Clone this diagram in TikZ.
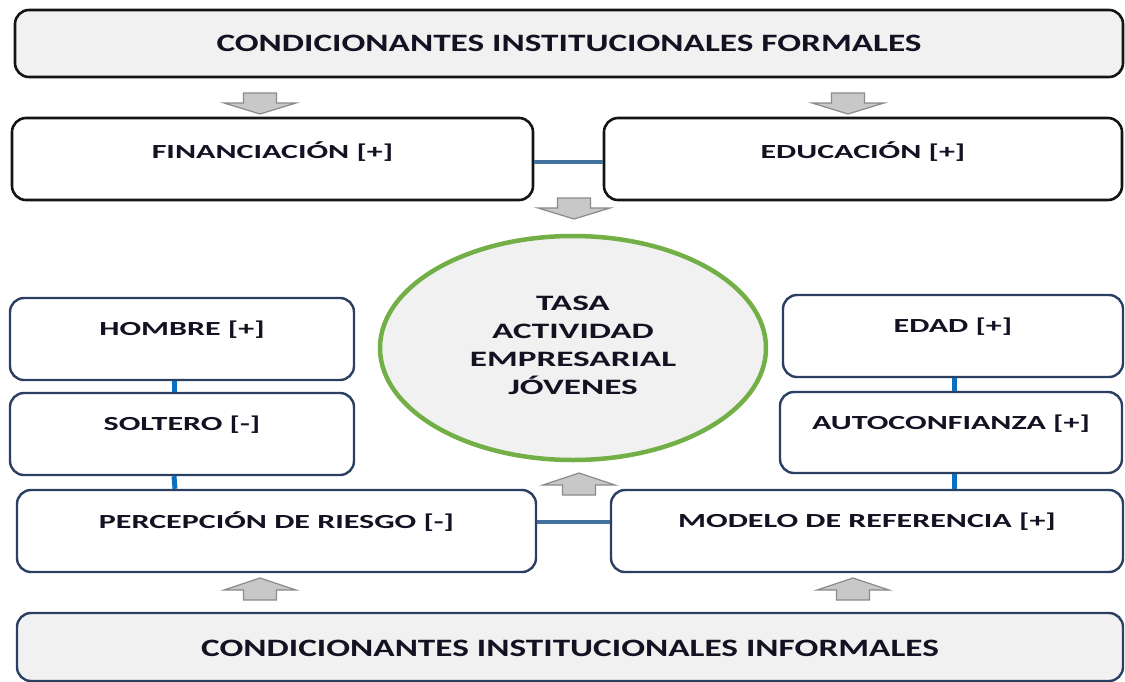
\documentclass[tikz,border=0pt]{standalone}
\usepackage{fontspec}
\setmainfont{Carlito}
\usepackage{graphicx}
\usetikzlibrary{shapes.geometric}
\definecolor{navy}{HTML}{2B3F63}
\definecolor{boxblack}{HTML}{141414}
\definecolor{lgray}{HTML}{F1F1F1}
\definecolor{conblue}{HTML}{41719C}
\definecolor{vblue}{HTML}{0C70C0}
\definecolor{cgreen}{HTML}{72AF47}
\definecolor{agray}{HTML}{C8C8C8}
\definecolor{agrayb}{HTML}{8A8A8A}
\definecolor{txt}{HTML}{121222}
\newcommand{\sx}[1]{\scalebox{1.6}[1]{#1}}
\newcommand{\sxb}[1]{\scalebox{1.41}[1]{#1}}
\tikzset{
  boxk/.style={draw=boxblack, line width=2.6pt, rounded corners=14pt, fill=white, inner sep=0pt},
  boxn/.style={draw=navy, line width=2.4pt, rounded corners=14pt, fill=white, inner sep=0pt},
  lbl/.style={font=\bfseries\fontsize{20}{24}\selectfont, text=txt, inner sep=0pt},
  biglbl/.style={font=\bfseries\fontsize{25}{30}\selectfont, text=txt, inner sep=0pt},
  arr/.style={draw=agrayb, fill=agray, line width=1.2pt, line join=miter},
  hcon/.style={draw=conblue, line width=3.5pt},
  vcon/.style={draw=vblue, line width=5pt},
  downarr/.pic={\draw[arr] (-16.5,0) -- (16.5,0) -- (16.5,10) -- (36,10) -- (0,21) -- (-36,10) -- (-16.5,10) -- cycle;},
  uparr/.pic={\draw[arr] (0,0) -- (36,12) -- (16.5,12) -- (16.5,22) -- (-16.5,22) -- (-16.5,12) -- (-36,12) -- cycle;}
}
\begin{document}
\begin{tikzpicture}[x=1pt,y=-1pt]
\useasboundingbox (0,0) rectangle (1125,681);
% top and bottom boxes
\node[boxk, fill=lgray, minimum width=1108pt, minimum height=67pt] (top) at (569,43.5) {};
\node[biglbl] (topt) at (top.center) {\sxb{CONDICIONANTES INSTITUCIONALES FORMALES}};
\node[boxn, fill=lgray, minimum width=1106pt, minimum height=68pt] (bot) at (570,647) {};
\node[biglbl] (bott) at ([yshift=-1pt]bot.center) {\sxb{CONDICIONANTES INSTITUCIONALES INFORMALES}};
% financiacion / educacion
\node[boxk, minimum width=521pt, minimum height=82pt] (fin) at (272.5,159) {};
\node[lbl] (fint) at ([yshift=7pt]fin.center) {\sx{FINANCIACIÓN [+]}};
\node[boxk, minimum width=518pt, minimum height=82pt] (edu) at (863,159) {};
\node[lbl] (edut) at ([yshift=7pt]edu.center) {\sx{EDUCACIÓN [+]}};
% left stack
\node[boxn, minimum width=344pt, minimum height=82pt] (hom) at (182,339) {};
\node[lbl] (homt) at ([yshift=9pt]hom.center) {\sx{HOMBRE [+]}};
\node[boxn, minimum width=344pt, minimum height=82pt] (sol) at (182,434) {};
\node[lbl] (solt) at ([yshift=9pt]sol.center) {\sx{SOLTERO [-]}};
\node[boxn, minimum width=519pt, minimum height=82pt] (per) at (276.5,531) {};
\node[lbl] (pert) at ([yshift=9pt]per.center) {\sx{PERCEPCIÓN DE RIESGO [-]}};
% right stack
\node[boxn, minimum width=340pt, minimum height=82pt] (eda) at (953,336) {};
\node[lbl] (edat) at ([yshift=9pt]eda.center) {\sx{EDAD [+]}};
\node[boxn, minimum width=342pt, minimum height=81pt] (aut) at (951,432.5) {};
\node[lbl] (autt) at ([yshift=9pt]aut.center) {\sx{AUTOCONFIANZA [+]}};
\node[boxn, minimum width=512pt, minimum height=82pt] (mod) at (867,531) {};
\node[lbl] (modt) at ([yshift=9pt]mod.center) {\sx{MODELO DE REFERENCIA [+]}};
% central ellipse
\node[draw=cgreen, line width=4.5pt, fill=lgray, ellipse, minimum width=386pt, minimum height=224pt, inner sep=0pt] (tasa) at (573,348) {};
\node[font=\bfseries\fontsize{22}{28}\selectfont, text=txt, align=center, inner sep=0pt] (tasat) at (573,345) {\sx{TASA}\\\sx{ACTIVIDAD}\\\sx{EMPRESARIAL}\\\sx{JÓVENES}};
% connectors
\draw[hcon] ([yshift=-3pt]fin.east) -- ([yshift=-3pt]edu.west);
\draw[hcon] ([yshift=9pt]per.east) -- ([yshift=9pt]mod.west);
\draw[vcon] ([xshift=-8pt]hom.south) -- ([xshift=-8pt]sol.north);
\draw[vcon] ([xshift=-8pt]sol.south) -- ([xshift=-101.5pt]per.north);
\draw[vcon] ([xshift=1pt]eda.south) -- ([xshift=3pt]aut.north);
\draw[vcon] ([xshift=3pt]aut.south) -- ([xshift=87pt]mod.north);
% block arrows
\pic at (260,93) {downarr};
\pic at (848,93) {downarr};
\pic at (574,198) {downarr};
\pic at (579,473) {uparr};
\pic at (260,578) {uparr};
\pic at (853,578) {uparr};
\end{tikzpicture}
\end{document}
